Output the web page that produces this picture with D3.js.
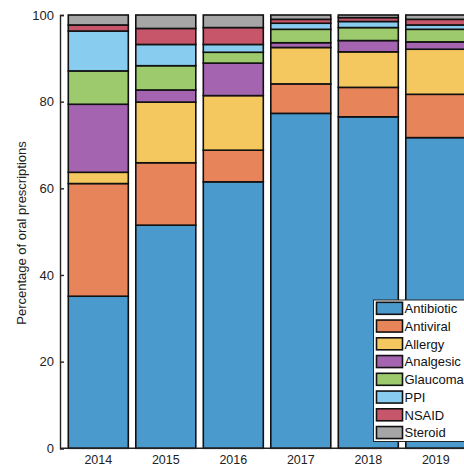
<!DOCTYPE html>
<html>
<head>
<meta charset="utf-8">
<script src="https://cdn.jsdelivr.net/npm/d3@7"></script>
<style>
  html, body { margin: 0; padding: 0; background: #fff; overflow: hidden; }
  svg { display: block; font-family: "Liberation Sans", Arial, sans-serif; }
</style>
</head>
<body>
<svg id="chart" width="464" height="466"></svg>
<script>
// Share of oral prescriptions by drug class, per year (%)
const years = ["2014", "2015", "2016", "2017", "2018", "2019"];
const classes = ["Antibiotic", "Antiviral", "Allergy", "Analgesic", "Glaucoma", "PPI", "NSAID", "Steroid"];
const antibiotic = [35.1, 51.5, 61.5, 77.3, 76.5, 71.7];
const antiviral  = [26.0, 14.4,  7.3,  6.8,  6.8, 10.0];
const allergy    = [ 2.6, 14.0, 12.6,  8.4,  8.2, 10.4];
const analgesic  = [15.7,  2.8,  7.5,  1.1,  2.6,  1.7];
const glaucoma   = [ 7.7,  5.6,  2.5,  3.1,  3.0,  2.9];
const ppi        = [ 9.2,  4.9,  1.8,  1.4,  1.4,  1.0];
const nsaid      = [ 1.4,  3.7,  3.9,  0.9,  0.9,  1.3];
const steroid    = [ 2.3,  3.1,  2.9,  1.0,  0.6,  1.0];
const yTicks = [0, 20, 40, 60, 80, 100];
const colors = ["#4a9acd", "#e8845a", "#f4c85e", "#a464b0", "#9cca6c", "#88cdef", "#c8566a", "#a6a6a6"];

const seriesValues = [antibiotic, antiviral, allergy, analgesic, glaucoma, ppi, nsaid, steroid];
const rows = years.map((yr, i) => {
  const r = { year: yr };
  classes.forEach((c, k) => { r[c] = seriesValues[k][i]; });
  return r;
});
const stacked = d3.stack().keys(classes)(rows);

const svg = d3.select("#chart");
const axisX = 60, yTop = 15, yBottom = 448.3;

const x = d3.scaleBand()
  .domain(years)
  .range([64.55, 469.55])
  .paddingInner(0.111)
  .paddingOuter(0.0555);

const y = d3.scaleLinear().domain([0, 100]).range([yBottom, yTop]);
const color = d3.scaleOrdinal().domain(classes).range(colors);

// stacked bars
svg.append("g")
  .selectAll("g")
  .data(stacked)
  .join("g")
  .attr("fill", d => color(d.key))
  .selectAll("rect")
  .data(d => d)
  .join("rect")
  .attr("x", d => x(d.data.year))
  .attr("width", x.bandwidth())
  .attr("y", d => y(d[1]))
  .attr("height", d => y(d[0]) - y(d[1]))
  .attr("stroke", "#111")
  .attr("stroke-width", 1.6);

// y axis
const yAxis = svg.append("g")
  .attr("transform", `translate(${axisX},0)`)
  .call(d3.axisLeft(y).tickValues(yTicks).tickSize(-4).tickPadding(6));
yAxis.select(".domain").attr("stroke", "#222").attr("stroke-width", 1.4);
yAxis.selectAll(".tick line").attr("stroke", "#222").attr("stroke-width", 1.4);
yAxis.selectAll(".tick text")
  .attr("fill", "#222")
  .style("font-size", "13px")
  .attr("font-family", "Liberation Sans, Arial, sans-serif");

// x axis
const xAxis = svg.append("g")
  .attr("transform", `translate(0,${yBottom})`)
  .call(d3.axisBottom(x).tickSize(0).tickPadding(7));
xAxis.select(".domain").remove();
xAxis.selectAll(".tick text")
  .attr("fill", "#222")
  .style("font-size", "12.5px")
  .attr("font-family", "Liberation Sans, Arial, sans-serif");
svg.append("line")
  .attr("x1", axisX).attr("x2", 464)
  .attr("y1", yBottom).attr("y2", yBottom)
  .attr("stroke", "#222").attr("stroke-width", 1.4);

// y axis title
svg.append("text")
  .attr("transform", "translate(26,233) rotate(-90)")
  .attr("text-anchor", "middle")
  .attr("fill", "#222")
  .style("font-size", "13px")
  .text("Percentage of oral prescriptions");

// legend
const legend = svg.append("g");
legend.append("rect")
  .attr("x", 373.5).attr("y", 300)
  .attr("width", 110).attr("height", 141.5)
  .attr("fill", "#fff")
  .attr("stroke", "#222").attr("stroke-width", 1);
const item = legend.selectAll("g.item")
  .data(classes)
  .join("g")
  .attr("class", "item")
  .attr("transform", (d, i) => `translate(0,${308.3 + i * 17.75})`);
item.append("rect")
  .attr("x", 376.5).attr("y", -6)
  .attr("width", 26).attr("height", 12)
  .attr("fill", d => color(d))
  .attr("stroke", "#111").attr("stroke-width", 1.6);
item.append("text")
  .attr("x", 404.5).attr("y", 4.8)
  .attr("fill", "#111")
  .style("font-size", "13px")
  .text(d => d);
</script>
</body>
</html>
